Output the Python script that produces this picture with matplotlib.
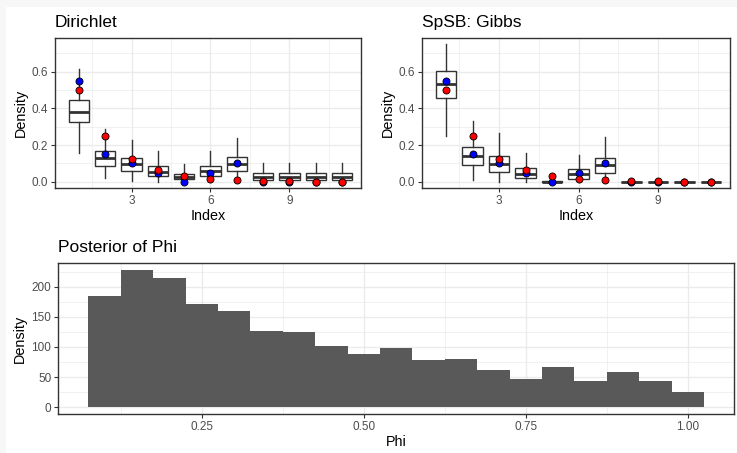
import matplotlib.pyplot as plt
from matplotlib.patches import Rectangle
from matplotlib.ticker import MultipleLocator

plt.rcParams['font.family'] = ['Liberation Sans', 'DejaVu Sans']

# boxplot summaries per index (1..11)
index = [1, 2, 3, 4, 5, 6, 7, 8, 9, 10, 11]

dir_whislo = [0.158, 0.018, 0.004, 0.0, 0.0, 0.0, 0.009, 0.0, 0.0, 0.0, 0.0]
dir_q1 = [0.324, 0.085, 0.058, 0.031, 0.013, 0.033, 0.058, 0.009, 0.009, 0.009, 0.009]
dir_med = [0.382, 0.127, 0.095, 0.055, 0.027, 0.060, 0.096, 0.027, 0.027, 0.027, 0.027]
dir_q3 = [0.445, 0.169, 0.127, 0.087, 0.045, 0.087, 0.133, 0.049, 0.049, 0.049, 0.049]
dir_whishi = [0.615, 0.287, 0.227, 0.167, 0.096, 0.167, 0.236, 0.100, 0.100, 0.100, 0.100]

gib_whislo = [0.251, 0.009, 0.0, 0.0, 0.0, 0.0, 0.0, 0.0, 0.0, 0.0, 0.0]
gib_q1 = [0.458, 0.091, 0.053, 0.018, 0.0, 0.015, 0.049, 0.0, 0.0, 0.0, 0.0]
gib_med = [0.531, 0.142, 0.096, 0.045, 0.0, 0.040, 0.091, 0.0, 0.0, 0.0, 0.0]
gib_q3 = [0.604, 0.191, 0.140, 0.076, 0.002, 0.069, 0.127, 0.001, 0.001, 0.0, 0.0]
gib_whishi = [0.751, 0.333, 0.267, 0.158, 0.004, 0.145, 0.245, 0.003, 0.003, 0.001, 0.001]

true_w = [0.55, 0.15, 0.10, 0.05, 0.0, 0.05, 0.10, 0.0, 0.0, 0.0, 0.0]
prior_w = [0.5, 0.25, 0.125, 0.0625, 0.03125, 0.015625, 0.0078125,
           0.00390625, 0.001953, 0.000977, 0.000488]

# histogram of phi
phi_mid = [0.10, 0.15, 0.20, 0.25, 0.30, 0.35, 0.40, 0.45, 0.50, 0.55,
           0.60, 0.65, 0.70, 0.75, 0.80, 0.85, 0.90, 0.95, 1.00]
phi_dens = [185, 228, 215, 171, 160, 126, 125, 102, 88, 98,
            78, 80, 62, 47, 67, 44, 59, 44, 25]

W, H = 737, 453
fig = plt.figure(figsize=(W / 100, H / 100), dpi=100)
fig.patch.set_facecolor('#f7f7f7')
fig.add_artist(Rectangle((6 / W, 0), 1, 1 - 7 / H, transform=fig.transFigure,
                         facecolor='white', edgecolor='none', zorder=-10))

BORDER = '#333333'
GRID = '#EBEBEB'
TICKC = '#4D4D4D'


def px_axes(x0, y0, x1, y1):
    return fig.add_axes([x0 / W, 1 - y1 / H, (x1 - x0) / W, (y1 - y0) / H])


def style(ax):
    ax.set_facecolor('white')
    ax.grid(True, which='major', color=GRID, lw=1.0, zorder=0)
    ax.grid(True, which='minor', color=GRID, lw=0.5, zorder=0)
    ax.set_axisbelow(True)
    for s in ax.spines.values():
        s.set_color(BORDER)
        s.set_linewidth(1.0)
    ax.tick_params(which='major', length=2.8, width=0.8, color=BORDER,
                   labelcolor=TICKC, labelsize=8.5, pad=2)
    ax.tick_params(which='minor', length=0)


def box_panel(ax, title, lo, q1, med, q3, hi):
    stats = []
    for i in range(len(index)):
        stats.append(dict(whislo=lo[i], q1=q1[i], med=med[i], q3=q3[i], whishi=hi[i]))
    ax.bxp(stats, positions=index, widths=0.77, showfliers=False, showcaps=False,
           patch_artist=True,
           boxprops=dict(facecolor='white', edgecolor=BORDER, lw=1.0),
           whiskerprops=dict(color=BORDER, lw=1.0),
           medianprops=dict(color=BORDER, lw=2.0))
    ax.scatter(index, true_w, s=26, c='#0000FF', edgecolors='black', lw=0.6, zorder=4)
    ax.scatter(index, prior_w, s=26, c='#FF0000', edgecolors='black', lw=0.6, zorder=5)
    ax.set_xlim(0.09, 11.72)
    ax.set_ylim(-0.034, 0.784)
    ax.xaxis.set_minor_locator(MultipleLocator(1.5))
    ax.set_xticks([3, 6, 9])
    ax.set_xticklabels(['3', '6', '9'])
    ax.set_yticks([0.0, 0.2, 0.4, 0.6])
    ax.set_yticklabels(['0.0', '0.2', '0.4', '0.6'])
    ax.yaxis.set_minor_locator(MultipleLocator(0.1))
    style(ax)
    ax.set_xlabel('Index', fontsize=10.4, labelpad=2)
    ax.set_ylabel('Density', fontsize=10.4, labelpad=3)
    ax.set_title(title, loc='left', fontsize=12.5, pad=8)


ax1 = px_axes(55, 38, 361, 188)
box_panel(ax1, 'Dirichlet', dir_whislo, dir_q1, dir_med, dir_q3, dir_whishi)

ax2 = px_axes(422, 38, 730, 188)
box_panel(ax2, 'SpSB: Gibbs', gib_whislo, gib_q1, gib_med, gib_q3, gib_whishi)

ax3 = px_axes(58, 263, 734, 414)
ax3.bar(phi_mid, phi_dens, width=0.05, color='#595959', zorder=2)
ax3.set_xlim(0.0282, 1.0714)
ax3.set_ylim(-11.4, 239.4)
ax3.set_xticks([0.25, 0.50, 0.75, 1.00])
ax3.set_xticklabels(['0.25', '0.50', '0.75', '1.00'])
ax3.xaxis.set_minor_locator(MultipleLocator(0.125))
ax3.set_yticks([0, 50, 100, 150, 200])
ax3.yaxis.set_minor_locator(MultipleLocator(25))
style(ax3)
ax3.set_xlabel('Phi', fontsize=10.4, labelpad=2)
ax3.set_ylabel('Density', fontsize=10.4, labelpad=3)
ax3.set_title('Posterior of Phi', loc='left', fontsize=12.5, pad=8)

fig.savefig('out.png', dpi=100, facecolor=fig.get_facecolor())
